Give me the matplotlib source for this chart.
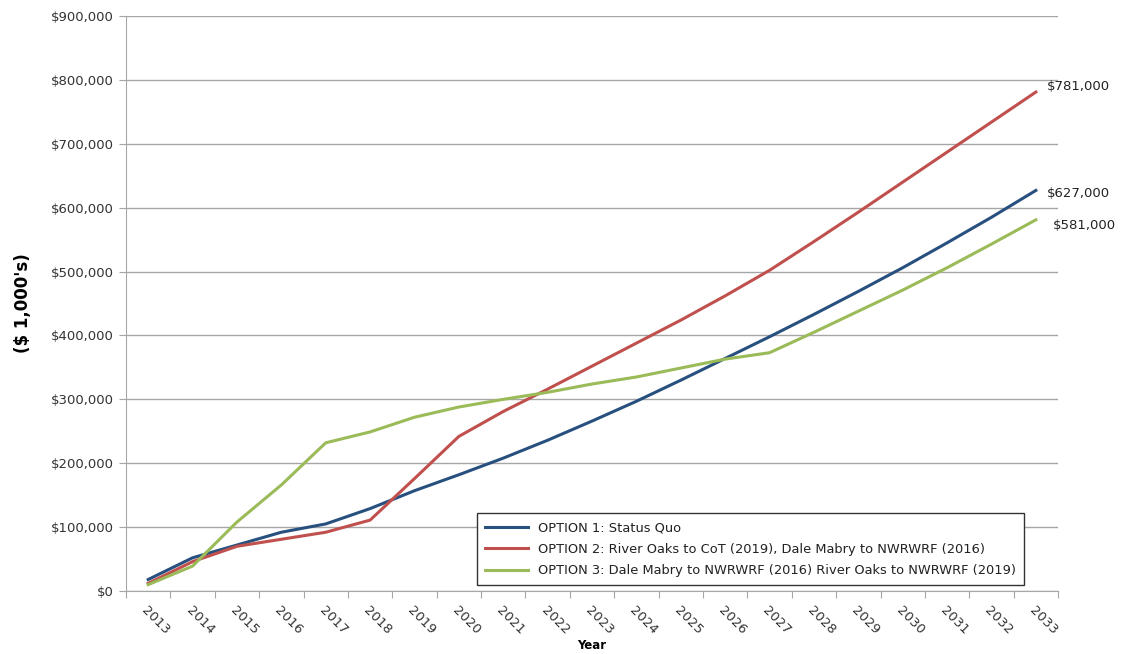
import matplotlib.pyplot as plt
from matplotlib.ticker import FuncFormatter

years = list(range(2013, 2034))

# cumulative cost, thousands of dollars
option1 = [18000, 52000, 72000, 92000, 105000, 129000, 157000, 182000, 208000, 236000,
           266000, 297000, 330000, 364000, 398000, 433000, 469000, 506000, 545000, 585000, 627000]
option2 = [12000, 46000, 70000, 81000, 92000, 111000, 176000, 242000, 281000, 316000,
           352000, 388000, 424000, 462000, 502000, 547000, 593000, 640000, 687000, 734000, 781000]
option3 = [10000, 39000, 108000, 166000, 232000, 249000, 272000, 288000, 300000, 311000,
           324000, 335000, 349000, 363000, 373000, 405000, 438000, 471000, 506000, 543000, 581000]

labels = ["OPTION 1: Status Quo",
          "OPTION 2: River Oaks to CoT (2019), Dale Mabry to NWRWRF (2016)",
          "OPTION 3: Dale Mabry to NWRWRF (2016) River Oaks to NWRWRF (2019)"]
colors = ["#27507f", "#c0504d", "#9bbb59"]

plt.rcParams['font.family'] = ['DejaVu Sans']

fig = plt.figure(figsize=(11.22, 6.54), dpi=100)
ax = fig.add_axes([0.1123, 0.0963, 0.8307, 0.8792])

x = list(range(len(years)))
for series, lab, col in zip([option1, option2, option3], labels, colors):
    ax.plot(x, series, color=col, lw=2.2, label=lab)

# value callouts at the final year
for series, (dx, dy) in zip([option1, option2, option3], [(8, -2), (8, 4), (12, -4)]):
    ax.annotate(f"${series[-1]:,}", (x[-1], series[-1]), xytext=(dx, dy),
                textcoords='offset points', fontsize=9.5, color='#222222', va='center')

ax.set_xlim(-0.5, len(years) - 0.5)
ax.set_ylim(0, 900000)
ax.set_yticks(range(0, 900001, 100000))
ax.yaxis.set_major_formatter(FuncFormatter(lambda v, p: f"${int(v):,}"))
ax.grid(axis='y', color='#a6a6a6', lw=1)
ax.set_axisbelow(True)

# category boundaries get the tick marks, centres get the labels
ax.set_xticks([i - 0.5 for i in range(len(years) + 1)])
ax.set_xticklabels([])
ax.set_xticks(x, minor=True)
ax.set_xticklabels([str(y) for y in years], minor=True, rotation=-45,
                   ha='left', va='top', rotation_mode='anchor', fontsize=9.5, color='#333333')
ax.tick_params(axis='x', which='major', length=5, color='#a6a6a6')
ax.tick_params(axis='x', which='minor', length=0, pad=9)
ax.tick_params(axis='y', length=5, color='#a6a6a6', labelsize=9.5, labelcolor='#333333')

for side in ['top', 'right']:
    ax.spines[side].set_visible(False)
for side in ['left', 'bottom']:
    ax.spines[side].set_color('#a6a6a6')

ax.set_xlabel("Year", fontsize=8.5, fontweight='bold', labelpad=2)
ax.set_ylabel("($ 1,000's)", fontsize=12, fontweight='bold', labelpad=14)

leg = ax.legend(loc='lower left', bbox_to_anchor=(0.3766, 0.0104), borderaxespad=0,
                fontsize=9.4, frameon=True, fancybox=False, framealpha=1,
                handlelength=3.3, borderpad=0.6, labelspacing=0.65)
leg.get_frame().set_edgecolor('#333333')
leg.get_frame().set_linewidth(1)
for t in leg.get_texts():
    t.set_color('#222222')

fig.savefig("out.png", dpi=100)
